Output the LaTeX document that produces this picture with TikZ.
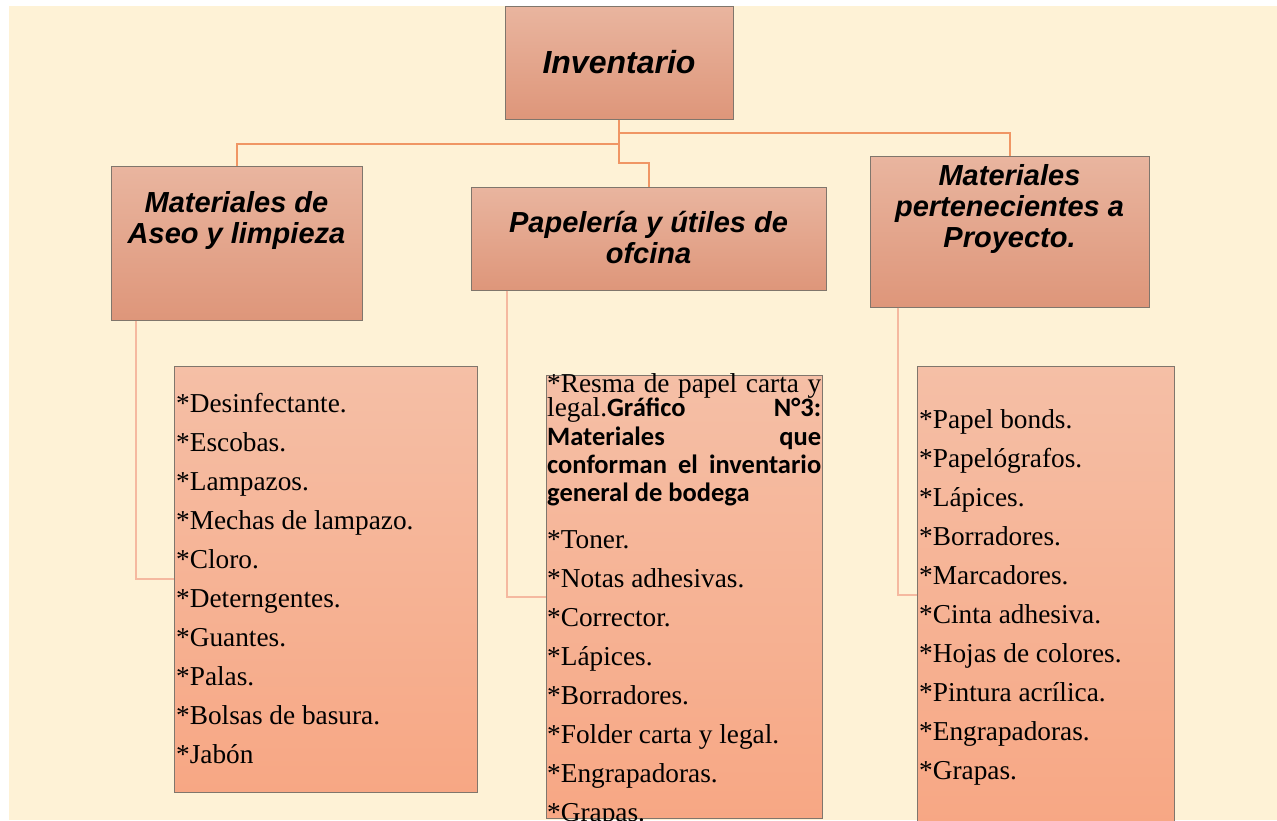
\documentclass[tikz,border=0pt]{standalone}
\usepackage{fontspec}
\setmainfont{Liberation Serif}
\newfontfamily\hdrfont{Liberation Sans}
\newfontfamily\calfont{Carlito}
\usetikzlibrary{positioning}

\definecolor{cream}{RGB}{254,242,214}
\definecolor{boxline}{RGB}{128,118,108}
\definecolor{conncol}{RGB}{240,150,100}
\definecolor{lconncol}{RGB}{245,185,160}
\definecolor{hdrtop}{RGB}{233,181,159}
\definecolor{hdrbot}{RGB}{222,150,122}
\definecolor{listtop}{RGB}{245,191,166}
\definecolor{listbot}{RGB}{247,167,132}

\tikzset{
	hdrbox/.style={draw=boxline, line width=1pt, top color=hdrtop, bottom color=hdrbot, inner sep=0pt},
	listbox/.style={draw=boxline, line width=1pt, top color=listtop, bottom color=listbot, inner sep=0pt},
	hdrtxt/.style={align=center, inner sep=0pt, font=\hdrfont\bfseries\itshape\fontsize{29}{31}\selectfont},
	item/.style={anchor=base west, inner sep=0pt, font=\fontsize{27.3}{39}\selectfont},
	bolditem/.style={item, font=\calfont\bfseries\fontsize{26.5}{28}\selectfont},
	conn/.style={draw=conncol, line width=2pt},
	lconn/.style={draw=lconncol, line width=2pt}
}

\begin{document}
\begin{tikzpicture}[x=1pt, y=-1pt]
	\useasboundingbox (0,0) rectangle (1277,820);
	\fill[white] (0,0) rectangle (1277,820);
	\fill[cream] (9,6) rectangle (1277,820);

	% top and second level
	\node[hdrbox, minimum width=228pt, minimum height=113pt] (inv) at (619,62.5) {};
	\node[hdrtxt, font=\hdrfont\bfseries\itshape\fontsize{32}{34}\selectfont] (invt) at (inv.center) {Inventario};
	\node[hdrbox, minimum width=251pt, minimum height=154pt] (aseo) at (236.5,243) {};
	\node[hdrtxt] (aseot) at ([yshift=-55pt]aseo.north) {Materiales de\\Aseo y limpieza};
	\node[hdrbox, minimum width=355pt, minimum height=103pt] (pap) at (648.5,238.5) {};
	\node[hdrtxt] (papt) at ([yshift=-51pt]pap.north) {Papelería y útiles de\\ofcina};
	\node[hdrbox, minimum width=279pt, minimum height=151pt] (proy) at (1009.5,231.5) {};
	\node[hdrtxt] (proyt) at ([yshift=-53pt]proy.north) {Materiales\\pertenecientes a\\Proyecto.};

	% lists
	\node[listbox, minimum width=303pt, minimum height=426pt] (list1) at (325.5,579) {};
	\node[listbox, minimum width=276pt, minimum height=443pt] (list2) at (684,596.5) {};
	\node[listbox, minimum width=257pt, minimum height=458pt] (list3) at (1045.5,595) {};

	% connectors
	\draw[conn] (inv.south) -- ([yshift=-24pt]inv.south) -| (aseo.north);
	\draw[conn] ([yshift=-13pt]inv.south) -| (proy.north);
	\draw[conn] (inv.south) |- ([yshift=24pt]pap.north) -- (pap.north);
	\draw[lconn] ([xshift=25pt]aseo.south west) |- (list1.west);
	\draw[lconn] ([xshift=36pt]pap.south west) |- (list2.west);
	\draw[lconn] ([xshift=28pt]proy.south west) |- (list3.west);

	\foreach \t [count=\i] in {*Desinfectante., *Escobas., *Lampazos., *Mechas de lampazo., *Cloro., *Deterngentes., *Guantes., *Palas., *Bolsas de basura., *Jabón}
		\node[item] (a\i) at (176,{412+39*(\i-1)}) {\t};

	\node[item] (r1) at (547,392) {\makebox[274pt][s]{*Resma de papel carta y}};
	\node[item] (r2) at (547,416) {\makebox[274pt][s]{legal.{\calfont\bfseries\fontsize{26.5}{28}\selectfont Gráfico\hfill N°3:}}};
	\node[bolditem] (r3) at (547,445) {\makebox[274pt][s]{Materiales\hfill que}};
	\node[bolditem] (r4) at (547,473) {\makebox[274pt][s]{conforman el inventario}};
	\node[bolditem] (r5) at (547,501) {general de bodega};
	\foreach \t [count=\i] in {*Toner., *Notas adhesivas., *Corrector., *Lápices., *Borradores., *Folder carta y legal., *Engrapadoras., *Grapas.}
		\node[item] (b\i) at (547,{548+39*(\i-1)}) {\t};

	\foreach \t [count=\i] in {*Papel bonds., *Papelógrafos., *Lápices., *Borradores., *Marcadores., *Cinta adhesiva., *Hojas de colores., *Pintura acrílica., *Engrapadoras., *Grapas.}
		\node[item] (c\i) at (919,{428+39*(\i-1)}) {\t};
\end{tikzpicture}
\end{document}
